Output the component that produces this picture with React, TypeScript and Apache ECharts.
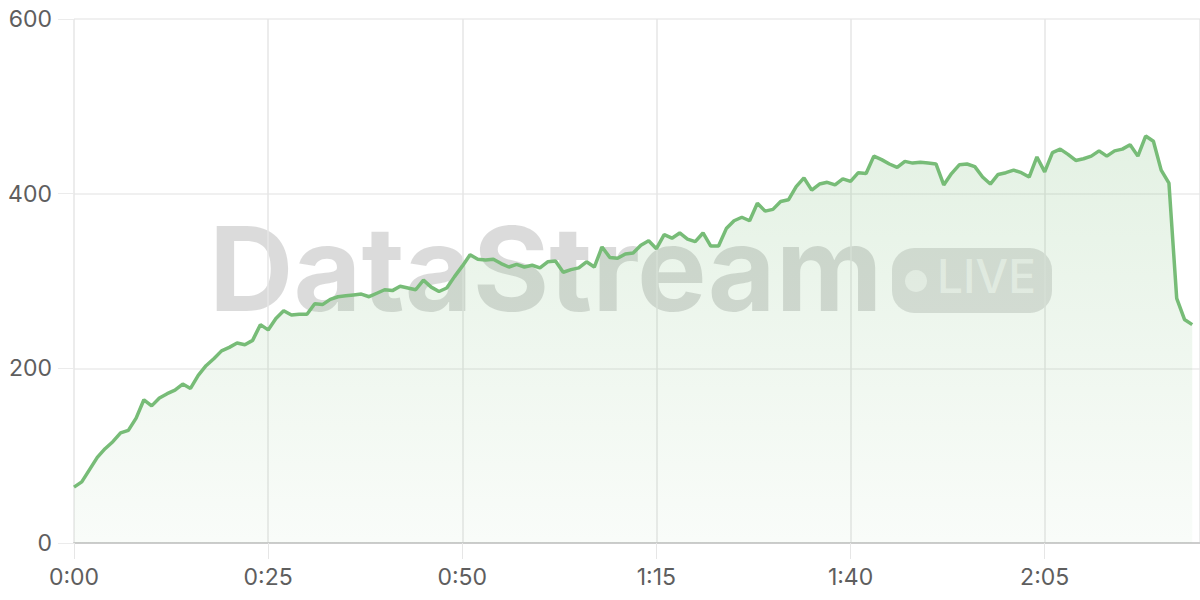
import React, { useEffect, useRef } from "react";
import * as echarts from "echarts";

const minutes: number[] = Array.from({ length: 145 }, (_, i) => i);
const viewers: number[] = [
  64, 70, 84, 98, 108, 116, 126, 129, 143, 164,
  157, 166, 171, 175, 182, 177, 192, 203, 211, 220,
  224, 229, 227, 232, 250, 244, 257, 266, 261, 262,
  262, 274, 273, 279, 282, 283, 284, 285, 282, 286,
  290, 289, 294, 292, 290, 301, 293, 288, 292, 305,
  317, 330, 325, 324, 325, 320, 316, 319, 316, 318,
  315, 322, 323, 310, 313, 315, 322, 316, 339, 327,
  326, 331, 332, 341, 346, 337, 353, 349, 355, 348,
  345, 355, 340, 340, 360, 369, 373, 369, 389, 380,
  382, 391, 393, 408, 418, 404, 411, 413, 410, 417,
  414, 424, 423, 443, 439, 434, 430, 437, 435, 436,
  435, 434, 410, 423, 433, 434, 431, 419, 411, 422,
  424, 427, 424, 419, 442, 425, 447, 451, 445, 438,
  440, 443, 449, 443, 449, 451, 456, 443, 466, 460,
  427, 412, 280, 256, 250,
];
const yTicks: number[] = [0, 200, 400, 600];
const xTickStep = 25;
const xMax = 145;

const fmtTime = (v: number) => `${Math.floor(v / 60)}:${String(v % 60).padStart(2, "0")}`;

export default function App() {
  const ref = useRef<HTMLDivElement>(null);
  useEffect(() => {
    if (!ref.current) return;
    const chart = echarts.init(ref.current, undefined, { renderer: "svg" });
    const font = "Inter";
    chart.setOption({
      animation: false,
      grid: { left: 74, right: 0, top: 19, bottom: 57, containLabel: false },
      graphic: [
        {
          type: "text",
          z: -10,
          left: 209,
          top: 210,
          silent: true,
          style: {
            text: "DataStream",
            font: `bold 117px ${font}`,
            fill: "rgba(0,0,0,0.14)",
          },
        },
        {
          type: "rect",
          z: -10,
          silent: true,
          shape: { x: 892, y: 248, width: 160, height: 65, r: 22 },
          style: { fill: "rgba(0,0,0,0.12)" },
        },
        {
          type: "circle",
          z: -9,
          silent: true,
          shape: { cx: 916, cy: 281, r: 11 },
          style: { fill: "rgba(255,255,255,0.6)" },
        },
        {
          type: "text",
          z: -9,
          silent: true,
          left: 937,
          top: 253,
          style: {
            text: "LIVE",
            font: `500 46px ${font}`,
            fill: "rgba(255,255,255,0.6)",
          },
        },
      ],
      xAxis: {
        type: "value",
        min: 0,
        max: xMax,
        interval: xTickStep,
        axisLine: { show: true, lineStyle: { color: "#cccccc", width: 2 } },
        axisTick: { show: true, length: 16, lineStyle: { color: "#e6e6e6" } },
        axisLabel: {
          showMaxLabel: false,
          margin: 22,
          color: "#5e5e5e",
          fontFamily: font,
          fontSize: 23,
          formatter: (v: number) => fmtTime(v),
        },
        splitLine: { show: true, lineStyle: { color: "#e6e6e6", width: 1.5 } },
      },
      yAxis: {
        type: "value",
        min: yTicks[0],
        max: yTicks[yTicks.length - 1],
        interval: 200,
        axisLine: { show: false },
        axisTick: { show: true, length: 16, lineStyle: { color: "#ebebeb" } },
        axisLabel: {
          margin: 22,
          color: "#5e5e5e",
          fontFamily: font,
          fontSize: 23,
        },
        splitLine: { show: true, lineStyle: { color: "#ebebeb", width: 1.5 } },
      },
      series: [
        {
          type: "line",
          data: minutes.map((m, i) => [m, viewers[i]]),
          showSymbol: false,
          symbol: "none",
          lineStyle: { color: "#77bc77", width: 3.5 },
          areaStyle: {
            color: new echarts.graphic.LinearGradient(0, 0, 0, 1, [
              { offset: 0, color: "rgba(116,185,115,0.28)" },
              { offset: 1, color: "rgba(116,185,115,0.06)" },
            ]),
          },
          z: 2,
        },
      ],
    });
    return () => chart.dispose();
  }, []);
  return (
    <div
      ref={ref}
      style={{ position: "fixed", left: 0, top: 0, width: 1200, height: 600, background: "#fff" }}
    />
  );
}
